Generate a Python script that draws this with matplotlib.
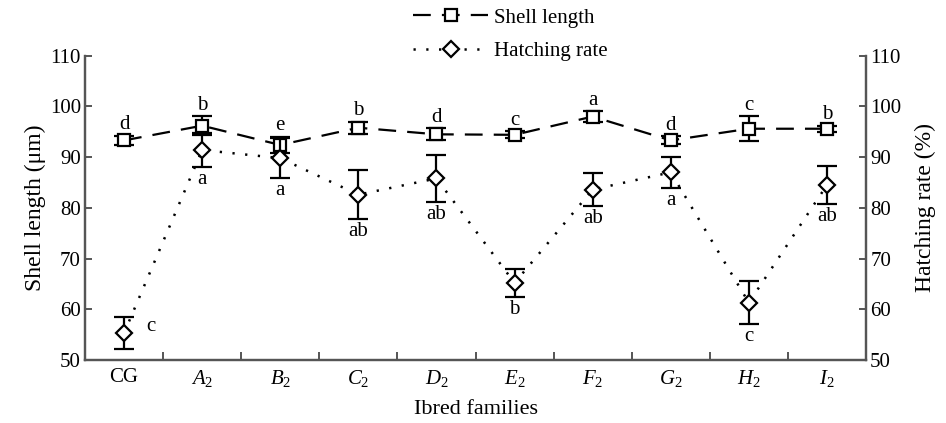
import matplotlib
matplotlib.use("Agg")
import matplotlib.pyplot as plt
from matplotlib.lines import Line2D
import numpy as np

plt.rcParams['font.family'] = ['Liberation Serif', 'DejaVu Serif']
plt.rcParams['mathtext.fontset'] = 'custom'
plt.rcParams['mathtext.rm'] = 'Liberation Serif'
plt.rcParams['mathtext.it'] = 'Liberation Serif:italic'

categories = ["CG", "$A_2$", "$B_2$", "$C_2$", "$D_2$", "$E_2$", "$F_2$", "$G_2$", "$H_2$", "$I_2$"]
shell_length = [93.3, 96.2, 92.4, 95.8, 94.5, 94.4, 98.0, 93.3, 95.6, 95.6]
shell_err = [0.9, 1.9, 1.6, 1.2, 1.2, 0.7, 1.1, 0.8, 2.5, 0.6]
shell_letters = ["d", "b", "e", "b", "d", "c", "a", "d", "c", "b"]
hatch_rate = [55.3, 91.4, 89.8, 82.6, 85.8, 65.2, 83.6, 87.0, 61.3, 84.5]
hatch_err = [3.1, 3.4, 4.0, 4.8, 4.6, 2.8, 3.2, 3.1, 4.3, 3.8]
hatch_letters = ["c", "a", "a", "ab", "ab", "b", "ab", "a", "c", "ab"]

fig = plt.figure(figsize=(9.46, 4.23), dpi=100)
ax = fig.add_axes([85/946, 1-360/423, 781/946, (360-55.7)/423])
ax2 = ax.twinx()

x = np.arange(len(categories))
spine_col = '#555555'
shell_dash = (8, 5)
hatch_dash = (0.9, 4.2)

ax.errorbar(x, shell_length, yerr=shell_err, color='black', lw=1.6,
            dashes=shell_dash, marker='s', ms=9, mfc='white', mec='black', mew=1.6,
            ecolor='black', elinewidth=1.6, capsize=7, capthick=1.6, zorder=3)
ax2.errorbar(x, hatch_rate, yerr=hatch_err, color='black', lw=1.8,
             dashes=hatch_dash, marker='D', ms=8.5, mfc='white', mec='black', mew=1.6,
             ecolor='black', elinewidth=1.6, capsize=7, capthick=1.6, zorder=3)

fs = 15
for i in range(len(categories)):
    ax.annotate(shell_letters[i], (x[i], shell_length[i] + shell_err[i]),
                xytext=(0, 1), textcoords='offset points', ha='center', va='bottom',
                fontsize=fs)
    if i == 0:
        ax2.annotate(hatch_letters[i], (x[i], hatch_rate[i]),
                     xytext=(16, 5), textcoords='offset points', ha='left', va='center',
                     fontsize=fs)
    else:
        ax2.annotate(hatch_letters[i], (x[i], hatch_rate[i] - hatch_err[i]),
                     xytext=(0, -2), textcoords='offset points', ha='center', va='top',
                     fontsize=fs)

for a in (ax, ax2):
    a.set_ylim(50, 110)
    a.set_yticks(np.arange(50, 111, 10))
    a.spines['top'].set_visible(False)
    for s in a.spines.values():
        s.set_color(spine_col)
        s.set_linewidth(1.6)

ax.set_xlim(-0.5, len(categories) - 0.5)
ax.set_xticks(x)
ax.set_xticklabels(categories, fontsize=fs)
ax.tick_params(axis='x', which='major', length=0, pad=6)
ax.set_xticks(np.arange(0.5, len(categories) - 0.5, 1), minor=True)
ax.tick_params(axis='x', which='minor', direction='in', length=6, width=1.4, color=spine_col)
ax.tick_params(axis='y', direction='in', length=5, width=1.4, color=spine_col, labelsize=fs, pad=3)
ax2.tick_params(axis='y', direction='in', length=5, width=1.4, color=spine_col, labelsize=fs, pad=3)

ax.set_ylabel("Shell length (μm)", fontsize=17, labelpad=3)
ax2.set_ylabel("Hatching rate (%)", fontsize=17, labelpad=10)
ax.set_xlabel("Ibred families", fontsize=16, labelpad=8)

h1 = Line2D([], [], color='black', lw=1.6, dashes=shell_dash, marker='s', ms=9,
            mfc='white', mec='black', mew=1.6)
h2 = Line2D([], [], color='black', lw=1.8, dashes=hatch_dash, marker='D', ms=8,
            mfc='white', mec='black', mew=1.6)
fig.legend([h1, h2], ['Shell length', 'Hatching rate'], loc='upper left',
           bbox_to_anchor=(413/946, 1 - 8/423), frameon=False, fontsize=15, numpoints=1,
           handlelength=3.6, labelspacing=0.68, handletextpad=0.3, borderpad=0,
           borderaxespad=0)

fig.savefig("out.png", dpi=100)
